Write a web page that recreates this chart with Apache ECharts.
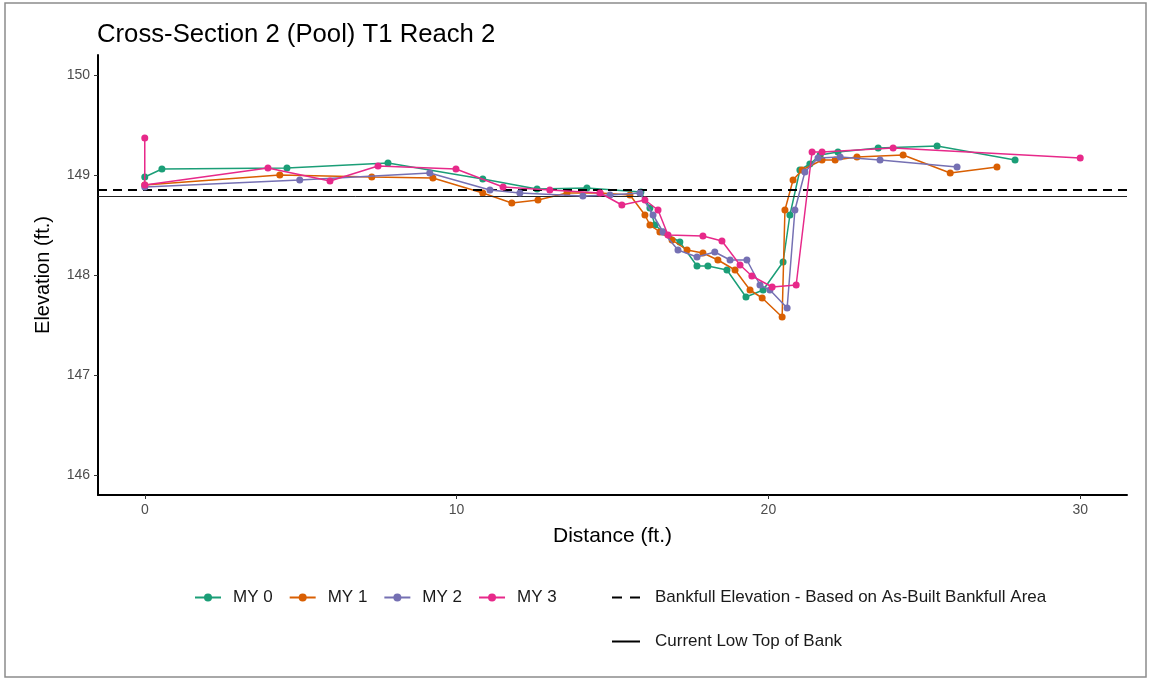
<!DOCTYPE html>
<html>
<head>
<meta charset="utf-8">
<script src="https://cdn.jsdelivr.net/npm/echarts@6/dist/echarts.min.js"></script>
<style>
  html, body { margin: 0; padding: 0; background: #fff; }
  #chart { width: 1151px; height: 681px; }
</style>
</head>
<body>
<div id="chart"></div>
<script>
// Survey station distance (ft.) and elevation (ft.) for each monitoring year
const my0Dist = [0, 0.55, 4.56, 7.8, 10.84, 12.58, 14.18, 15.91, 16.2, 16.36, 16.62, 17.16, 17.71, 18.06, 18.67, 19.28, 19.83, 20.47, 20.69, 21.01, 21.33, 21.66, 22.23, 23.52, 25.41, 27.91];
const my0Elev = [148.98, 149.06, 149.07, 149.12, 148.96, 148.86, 148.87, 148.83, 148.67, 148.5, 148.43, 148.33, 148.09, 148.09, 148.05, 147.78, 147.85, 148.13, 148.6, 149.05, 149.11, 149.2, 149.23, 149.27, 149.29, 149.15];

const my1Dist = [0, 4.33, 7.28, 9.24, 10.84, 11.77, 12.61, 13.54, 14.6, 15.56, 16.04, 16.2, 16.52, 16.91, 17.39, 17.9, 18.38, 18.93, 19.41, 19.8, 20.44, 20.53, 20.79, 21.08, 21.72, 22.14, 22.84, 24.32, 25.83, 27.33];
const my1Elev = [148.9, 149.0, 148.98, 148.97, 148.82, 148.72, 148.75, 148.82, 148.82, 148.8, 148.6, 148.5, 148.43, 148.35, 148.25, 148.22, 148.15, 148.05, 147.85, 147.77, 147.58, 148.65, 148.95, 149.05, 149.15, 149.15, 149.18, 149.2, 149.02, 149.08];

const my2Dist = [0, 4.97, 9.14, 11.07, 12.03, 14.05, 14.92, 15.88, 16.3, 16.62, 17.1, 17.71, 18.28, 18.77, 19.31, 19.73, 20.05, 20.6, 20.85, 21.17, 21.59, 22.3, 23.58, 26.05];
const my2Elev = [148.88, 148.95, 149.02, 148.85, 148.82, 148.79, 148.8, 148.82, 148.6, 148.43, 148.25, 148.18, 148.23, 148.15, 148.15, 147.9, 147.85, 147.67, 148.65, 149.03, 149.17, 149.18, 149.15, 149.08];

const my3Dist = [0, 0, 3.95, 5.94, 7.48, 9.98, 11.49, 12.99, 14.6, 15.3, 16.04, 16.46, 16.78, 17.9, 18.51, 19.09, 19.47, 20.12, 20.89, 21.4, 21.72, 24.0, 30.0];
const my3Elev = [149.37, 148.9, 149.07, 148.94, 149.09, 149.06, 148.88, 148.85, 148.82, 148.7, 148.75, 148.65, 148.4, 148.39, 148.34, 148.1, 147.99, 147.88, 147.9, 149.23, 149.23, 149.27, 149.17];

// Reference elevations
const bankfullElev = 148.85;
const lowTopOfBank = 148.79;

// Axis ticks
const xTicks = [0, 10, 20, 30];
const yTicks = [146, 147, 148, 149, 150];

const seriesNames = ['MY 0', 'MY 1', 'MY 2', 'MY 3'];
const seriesColors = ['#1B9E77', '#D95F02', '#7570B3', '#E7298A'];
const bankfullName = 'Bankfull Elevation - Based on As-Built Bankfull Area';
const lowBankName = 'Current Low Top of Bank';

const dists = [my0Dist, my1Dist, my2Dist, my3Dist];
const elevs = [my0Elev, my1Elev, my2Elev, my3Elev];

const font = 'Liberation Sans, Arial, Helvetica, sans-serif';

const surveySeries = seriesNames.map((name, i) => ({
  name: name,
  type: 'line',
  data: dists[i].map((d, k) => [d, elevs[i][k]]),
  color: seriesColors[i],
  symbol: 'circle',
  symbolSize: 7,
  showSymbol: true,
  lineStyle: { width: 1.5, color: seriesColors[i] },
  itemStyle: { color: seriesColors[i] },
  z: 3 + i,
  animation: false
}));

const refSeries = [
  {
    name: bankfullName,
    type: 'line',
    data: [],
    symbol: 'none',
    color: '#000',
    itemStyle: { color: '#000' },
    lineStyle: { type: [9, 6], width: 2, color: '#000' },
    markLine: {
      silent: true,
      symbol: 'none',
      label: { show: false },
      lineStyle: { type: [9, 6], width: 2.2, color: '#000' },
      data: [{ yAxis: bankfullElev }],
      animation: false
    },
    z: 2
  },
  {
    name: lowBankName,
    type: 'line',
    data: [],
    symbol: 'none',
    color: '#000',
    itemStyle: { color: '#000' },
    lineStyle: { type: 'solid', width: 2, color: '#000' },
    markLine: {
      silent: true,
      symbol: 'none',
      label: { show: false },
      lineStyle: { type: 'solid', width: 1, color: '#222' },
      data: [{ yAxis: lowTopOfBank }],
      animation: false
    },
    z: 2
  }
];

const legendText = { fontFamily: font, fontSize: 17, color: '#1a1a1a' };

const chart = echarts.init(document.getElementById('chart'), null, { renderer: 'canvas' });

chart.setOption({
  animation: false,
  backgroundColor: '#fff',
  title: {
    text: 'Cross-Section 2 (Pool) T1 Reach 2',
    left: 92,
    top: 17,
    textStyle: { fontFamily: font, fontSize: 25.7, fontWeight: 'normal', color: '#000' }
  },
  graphic: [{
    type: 'rect',
    shape: { x: 5, y: 3, width: 1141, height: 674 },
    style: { fill: 'none', stroke: '#8c8c8c', lineWidth: 1.5 },
    silent: true
  }],
  grid: { left: 98, right: 24, top: 55, bottom: 186, containLabel: false },
  xAxis: {
    type: 'value',
    min: -1.5,
    max: 31.5,
    name: 'Distance (ft.)',
    nameLocation: 'middle',
    nameGap: 31,
    nameTextStyle: { fontFamily: font, fontSize: 21, color: '#000' },
    splitLine: { show: false },
    axisLine: { show: true, onZero: false, lineStyle: { color: '#000', width: 2 } },
    axisTick: { show: true, length: 4, customValues: xTicks, lineStyle: { color: '#333', width: 1 } },
    axisLabel: { customValues: xTicks, margin: 8, fontFamily: font, fontSize: 14, color: '#4d4d4d' }
  },
  yAxis: {
    type: 'value',
    min: 145.8,
    max: 150.2,
    name: 'Elevation (ft.)',
    nameLocation: 'middle',
    nameGap: 45,
    nameRotate: 90,
    nameTextStyle: { fontFamily: font, fontSize: 20, color: '#000' },
    splitLine: { show: false },
    axisLine: { show: true, onZero: false, lineStyle: { color: '#000', width: 2 } },
    axisTick: { show: true, length: 4, customValues: yTicks, lineStyle: { color: '#333', width: 1 } },
    axisLabel: { customValues: yTicks, margin: 8, fontFamily: font, fontSize: 14, color: '#4d4d4d' }
  },
  legend: [
    {
      data: seriesNames,
      left: 189,
      top: 584,
      orient: 'horizontal',
      itemWidth: 26,
      itemHeight: 10,
      itemGap: 16,
      textStyle: Object.assign({ padding: [0, 0, 0, 7] }, legendText)
    },
    {
      data: [{ name: bankfullName, icon: 'path://M0,0h10v2h-10z M18,0h10v2h-10z' }],
      left: 607,
      top: 584,
      itemWidth: 28,
      itemHeight: 2.5,
      itemStyle: { color: '#000' },
      textStyle: Object.assign({ padding: [0, 0, 0, 10] }, legendText)
    },
    {
      data: [{ name: lowBankName, icon: 'path://M0,0h28v2h-28z' }],
      left: 607,
      top: 628,
      itemWidth: 28,
      itemHeight: 2.5,
      itemStyle: { color: '#000' },
      textStyle: Object.assign({ padding: [0, 0, 0, 10] }, legendText)
    }
  ],
  series: refSeries.concat(surveySeries)
});
</script>
</body>
</html>
